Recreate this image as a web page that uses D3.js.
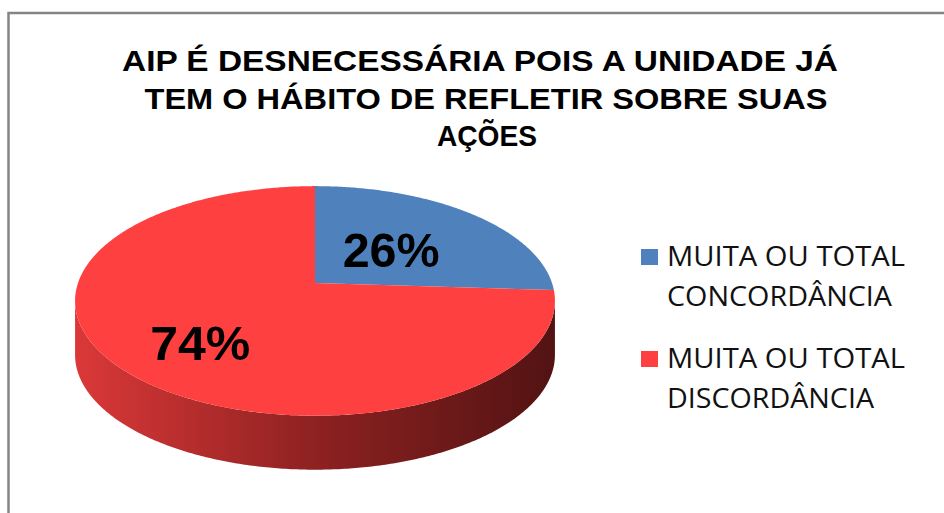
<!DOCTYPE html>
<html>
<head>
<meta charset="utf-8">
<script src="https://cdn.jsdelivr.net/npm/d3@7"></script>
<style>
  html, body { margin: 0; padding: 0; background: #fff; }
</style>
</head>
<body>
<div class="box"></div>
<script>
// Data
const categories = ['MUITA OU TOTAL CONCORDÂNCIA', 'MUITA OU TOTAL DISCORDÂNCIA'];
const legendLines = [['MUITA OU TOTAL', 'CONCORDÂNCIA'], ['MUITA OU TOTAL', 'DISCORDÂNCIA']];
const values = [26, 74];
const valueLabels = ['26%', '74%'];
const titleLines = ['AIP É DESNECESSÁRIA POIS A UNIDADE  JÁ', 'TEM O HÁBITO DE REFLETIR SOBRE SUAS', 'AÇÕES'];

const colors = ['#4f81bd', '#ff4040'];

const svg = d3.select('.box')
              .append('svg')
              .attr('width', 944)
              .attr('height', 513)
              .style('display', 'block');

// frame (top and left edges only visible)
svg.append('path')
   .attr('d', 'M8.5,513 L8.5,13 L944,13')
   .attr('fill', 'none')
   .attr('stroke', '#858585')
   .attr('stroke-width', 2.5);

// Title
const titleW = [716, 683, 100];
svg.append('g')
   .selectAll('text')
   .data(titleLines)
   .enter()
   .append('text')
   .attr('x', (d, i) => [480, 486, 487][i])
   .attr('y', (d, i) => 71 + i * 37.5)
   .attr('text-anchor', 'middle')
   .attr('textLength', (d, i) => titleW[i])
   .attr('lengthAdjust', 'spacingAndGlyphs')
   .style('font-family', '"Liberation Sans", Arial, sans-serif')
   .style('font-weight', 'bold')
   .style('font-size', '30px')
   .style('fill', '#000')
   .text(d => d);

// 3D pie projection
const cx = 315, cy = 283, rx = 237, ry = 112, persp = 0.156, depth = 54;
const proj = (a, r = 1, dz = 0) => {
  const X = r * Math.sin(a), Z = r * Math.cos(a);
  const w = 1 + persp * Z;
  return [cx + rx * X / w, cy - ry * Z / w + dz];
};
const arcPts = (a0, a1, dz) => {
  const n = Math.max(2, Math.ceil(Math.abs(a1 - a0) / 0.01));
  return d3.range(n + 1).map(i => proj(a0 + (a1 - a0) * i / n, 1, dz));
};

const pie = d3.pie().sort(null).value(d => d);
const arcs = pie(values);

const defs = svg.append('defs');
const grad = defs.append('linearGradient')
                 .attr('id', 'sideGrad')
                 .attr('gradientUnits', 'userSpaceOnUse')
                 .attr('x1', cx - rx).attr('x2', cx + rx)
                 .attr('y1', 0).attr('y2', 0);
grad.append('stop').attr('offset', 0).attr('stop-color', '#da3838');
grad.append('stop').attr('offset', 0.5).attr('stop-color', '#8e2121');
grad.append('stop').attr('offset', 1).attr('stop-color', '#531313');

const blueGrad = defs.append('linearGradient')
                 .attr('id', 'sideGrad0')
                 .attr('gradientUnits', 'userSpaceOnUse')
                 .attr('x1', cx - rx).attr('x2', cx + rx)
                 .attr('y1', 0).attr('y2', 0);
blueGrad.append('stop').attr('offset', 0).attr('stop-color', '#3f6a9e');
blueGrad.append('stop').attr('offset', 1).attr('stop-color', '#1f3550');

const line = d3.line();
const visA = Math.acos(-persp), visB = 2 * Math.PI - visA;

const pieG = svg.append('g');

// sides (front visible part only)
arcs.forEach((d, i) => {
  const a0 = Math.max(d.startAngle, visA), a1 = Math.min(d.endAngle, visB);
  if (a1 <= a0) return;
  const top = arcPts(a0, a1, 0);
  const bot = arcPts(a1, a0, depth);
  pieG.append('path')
      .attr('d', line(top.concat(bot)) + 'Z')
      .attr('fill', i === 1 ? 'url(#sideGrad)' : 'url(#sideGrad0)');
});

// top faces
pieG.selectAll('path.top')
    .data(arcs)
    .enter()
    .append('path')
    .attr('class', 'top')
    .attr('d', d => line([proj(0, 0)].concat(arcPts(d.startAngle, d.endAngle, 0))) + 'Z')
    .attr('fill', (d, i) => colors[i]);

// value labels
const labelRadius = [0.45, 0.63];
const labelDy = [0, 8];
const labelW = [97, 100];
pieG.selectAll('text')
    .data(arcs)
    .enter()
    .append('text')
    .attr('x', (d, i) => proj((d.startAngle + d.endAngle) / 2, labelRadius[i])[0] + 2)
    .attr('y', (d, i) => proj((d.startAngle + d.endAngle) / 2, labelRadius[i])[1] + labelDy[i] + 17)
    .attr('text-anchor', 'middle')
    .attr('textLength', (d, i) => labelW[i])
    .attr('lengthAdjust', 'spacingAndGlyphs')
    .style('font-family', '"Liberation Sans", Arial, sans-serif')
    .style('font-weight', 'bold')
    .style('font-size', '48px')
    .style('fill', '#000')
    .text((d, i) => valueLabels[i]);

// legend
const legend = svg.append('g')
                  .selectAll('g')
                  .data(categories)
                  .enter()
                  .append('g')
                  .attr('transform', (d, i) => `translate(641, ${249 + i * 102})`);

legend.append('rect')
      .attr('width', 17)
      .attr('height', 16)
      .attr('fill', (d, i) => colors[i]);

const legW = [[238, 225], [238, 207]];
legend.each(function(d, i) {
  d3.select(this).selectAll('text')
    .data(legendLines[i])
    .enter()
    .append('text')
    .attr('x', 26)
    .attr('y', (t, j) => 17 + j * 40)
    .attr('textLength', (t, j) => legW[i][j])
    .attr('lengthAdjust', 'spacingAndGlyphs')
    .style('font-family', '"Open Sans", "Noto Sans", sans-serif')
    .style('font-size', '28px')
    .style('fill', '#111')
    .text(t => t);
});
</script>
</body>
</html>
